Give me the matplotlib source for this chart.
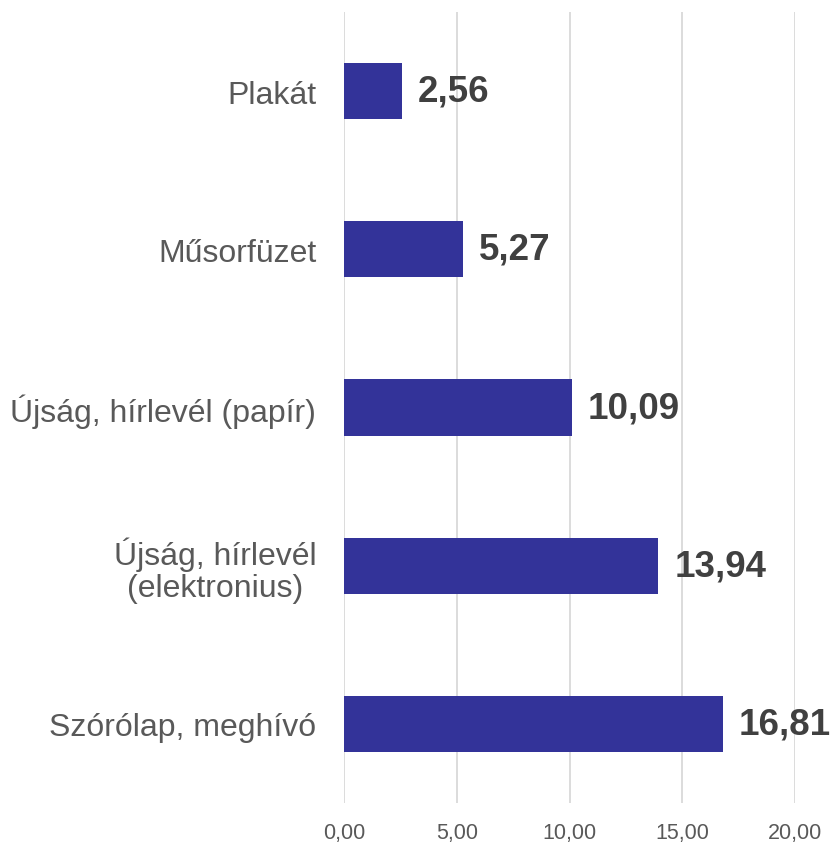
import matplotlib.pyplot as plt

plt.rcParams['font.family'] = ['Liberation Sans', 'DejaVu Sans']

categories = ["Plakát", "Műsorfüzet", "Újság, hírlevél (papír)",
              "Újság, hírlevél\n(elektronius)", "Szórólap, meghívó"]
values = [2.56, 5.27, 10.09, 13.94, 16.81]
ticks = [0, 5, 10, 15, 20]

fig = plt.figure(figsize=(8.31, 8.45), dpi=100)
ax = fig.add_axes([0.414, 0.0485, 0.5427, 0.936])

y = list(range(len(categories)))
ax.barh(y, values, height=0.355, color="#333399", zorder=3)

for yi, v in zip(y, values):
    ax.text(v + 0.7, yi, f"{v:.2f}".replace(".", ","), va="center", ha="left",
            fontsize=26.5, fontweight="bold", color="#404040", zorder=4)

ax.set_ylim(len(categories) - 0.5, -0.5)
ax.set_xlim(0, 20)
ax.set_yticks(y)
ax.set_yticklabels(categories, fontsize=23, color="#595959", linespacing=1.05,
                   multialignment="center")
ax.set_xticks(ticks)
ax.set_xticklabels([f"{t:.2f}".replace(".", ",") for t in ticks], fontsize=15.5, color="#595959")
ax.tick_params(axis="both", length=0)
ax.tick_params(axis="y", pad=20)
ax.tick_params(axis="x", pad=14)
ax.grid(axis="x", color="#d9d9d9", linewidth=1.3, zorder=0)
for s in ax.spines.values():
    s.set_visible(False)

fig.savefig("out.png", dpi=100)
